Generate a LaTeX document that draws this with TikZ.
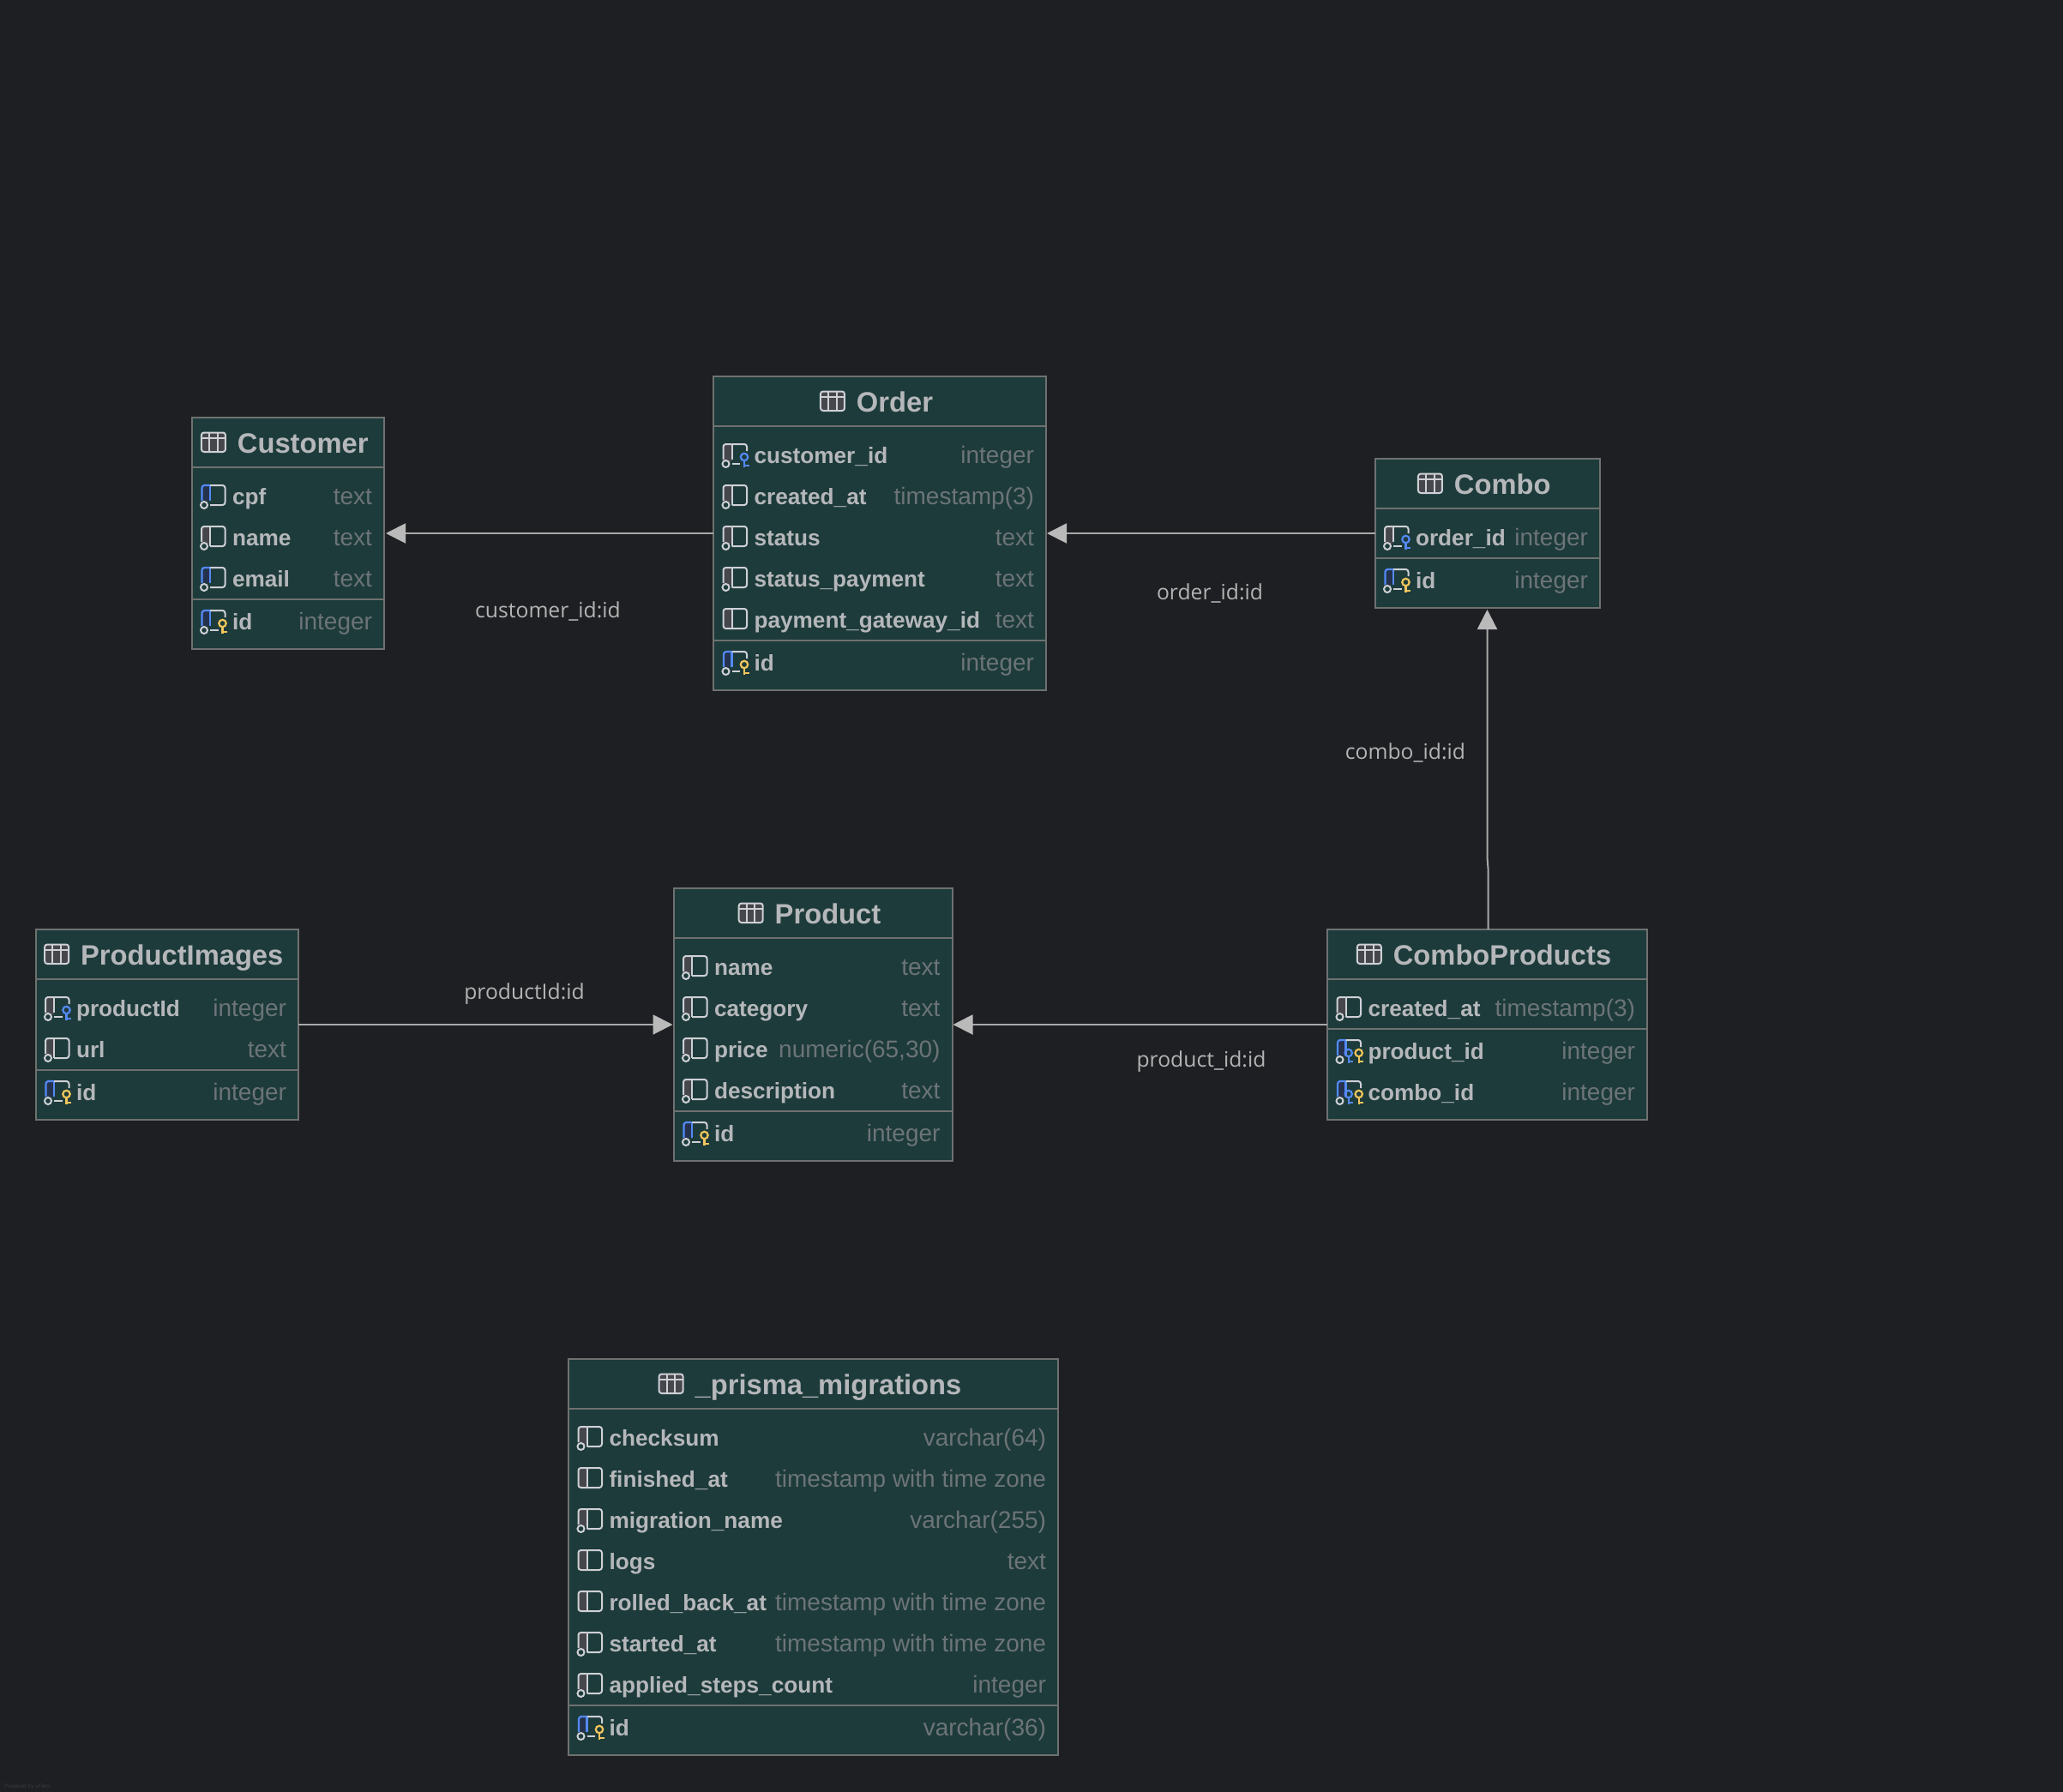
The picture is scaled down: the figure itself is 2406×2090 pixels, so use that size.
\documentclass[tikz,border=0pt]{standalone}
\usepackage{fontspec}
\setmainfont{Liberation Sans}
\newfontfamily\lblfont{Open Sans}
\usetikzlibrary{arrows.meta}
\definecolor{bgc}{HTML}{1E1F22}
\definecolor{tblfill}{HTML}{1D3B3A}
\definecolor{tblline}{HTML}{6E7170}
\definecolor{titlec}{HTML}{B5B7BB}
\definecolor{typec}{HTML}{6C7478}
\definecolor{iconl}{HTML}{CED0D6}
\definecolor{icong}{HTML}{46474D}
\definecolor{iconbf}{HTML}{25324D}
\definecolor{iconb}{HTML}{548AF7}
\definecolor{icony}{HTML}{F2C55C}
\definecolor{connc}{HTML}{A9A9A9}
\definecolor{tipc}{HTML}{BABABA}
\definecolor{lblc}{HTML}{B4B4B4}
\definecolor{wmc}{HTML}{3A3B3E}
\catcode`\_=12
\tikzset{
  x=1pt,y=-1pt,
  tblbox/.style={draw=tblline,fill=tblfill,line width=2pt,inner sep=0pt,outer sep=0pt},
  tbltitle/.style={anchor=base,inner sep=0pt,outer sep=0pt,text=titlec,font=\fontsize{32.7}{36}\selectfont\bfseries},
  fldname/.style={anchor=base west,inner sep=0pt,outer sep=0pt,text=titlec,font=\fontsize{26.2}{30}\selectfont\bfseries},
  fldtype/.style={anchor=base east,inner sep=0pt,outer sep=0pt,text=typec,font=\fontsize{28}{32}\selectfont},
  seprule/.style={draw=tblline,line width=2pt},
  icoline/.style={draw=iconl,line width=2pt,rounded corners=3pt},
  bluline/.style={draw=iconb,line width=2.2pt},
  conn/.style={draw=connc,line width=2pt,-{Triangle[length=23pt,width=23pt,color=tipc]},shorten >=2pt},
  lbl/.style={anchor=base,inner sep=0pt,text=lblc,font=\fontsize{24.7}{28}\selectfont\lblfont},
}
% #1 id, #2 title, #3 l, #4 r, #5 t, #6 b
\newcommand\tablebox[6]{%
  \node[tblbox,minimum width={(#4-#3)*1pt},minimum height={(#6-#5)*1pt}] (#1) at ({(#3+#4)/2},{(#5+#6)/2}) {};
  \node[tbltitle] (#1-title) at ({(#3+#4)/2+17.5},#5+41) {#2};
  \begin{scope}[shift={(#1-title.base west)}]
    \fill[icong,rounded corners=3pt] (-42,-23) rectangle (-14,-1);
    \draw[icoline] (-42,-23.5) rectangle (-14,-1);
    \draw[draw=iconl,line width=2pt] (-42,-17.5) -- (-14,-17.5) (-32.7,-23.5) -- (-32.7,-1) (-23.3,-23.5) -- (-23.3,-1);
  \end{scope}
  \draw[seprule] (#3,#5+58) -- (#4,#5+58);
}
\newcommand\rowsep[3]{\draw[seprule] (#1,#3) -- (#2,#3);}
\newcommand\circmark[2]{\draw[draw=iconl,line width=2pt,fill=tblfill] (#1+14.5,#2+11) circle[radius=4];}
\newcommand\keyof[3]{% x centre, y row, colour
  \draw[draw=#3,line width=2.2pt] (#1,#2+3) circle[radius=4.2];
  \draw[draw=#3,line width=2.2pt] (#1,#2+7.2) -- (#1,#2+15);
  \draw[draw=#3,line width=2.2pt] (#1,#2+13) -- (#1+5.5,#2+13);
}
% icon kinds: #1 left, #2 y
\newcommand\iconn[2]{%
  \fill[icong,rounded corners=3pt] (#1+11.5,#2-12) rectangle (#1+21.5,#2+11);
  \draw[icoline] (#1+11.5,#2-12) rectangle (#1+39,#2+11);
  \draw[draw=iconl,line width=2pt] (#1+21.5,#2-12) -- (#1+21.5,#2+11);
}
\newcommand\colg[2]{%
  \fill[icong,rounded corners=3pt] (#1+11.5,#2-12) -- (#1+21.5,#2-12) -- (#1+21.5,#2+9) -- (#1+11.5,#2+9) -- cycle;
}
\newcommand\colb[2]{%
  \fill[iconbf,rounded corners=3pt] (#1+11.5,#2-12) -- (#1+21.5,#2-12) -- (#1+21.5,#2+6) -- (#1+11.5,#2+6) -- cycle;
  \draw[bluline,rounded corners=3pt] (#1+12,#2+6) -- (#1+12,#2-12) -- (#1+21.5,#2-12);
  \draw[bluline] (#1+21.5,#2-12) -- (#1+21.5,#2+6);
}
\newcommand\outl[2]{% no key
  \draw[icoline] (#1+21.5,#2-12) -- (#1+39,#2-12) -- (#1+39,#2+11) -- (#1+21.5,#2+11);
}
\newcommand\outk[3]{% room for keys; #3 is where the bottom ends
  \draw[icoline] (#1+21.5,#2-12) -- (#1+39,#2-12) -- (#1+39,#2-4);
  \draw[draw=iconl,line width=2pt] (#1+21.5,#2+11) -- (#1+#3,#2+11);
}
\newcommand\graycol[3]{\colg{#1}{#2}\draw[draw=iconl,line width=2pt,rounded corners=3pt] (#1+11.5,#2+6) -- (#1+11.5,#2-12) -- (#1+21.5,#2-12);\draw[draw=iconl,line width=2pt] (#1+21.5,#2-12) -- (#1+21.5,#2+#3);}
\newcommand\icong[2]{\graycol{#1}{#2}{11}\outl{#1}{#2}\circmark{#1}{#2}}
\newcommand\iconb[2]{\colb{#1}{#2}\outl{#1}{#2}\circmark{#1}{#2}}
\newcommand\icongk[2]{\graycol{#1}{#2}{6}\outk{#1}{#2}{31}\circmark{#1}{#2}\keyof{#1+36}{#2}{iconb}}
\newcommand\iconbk[2]{\colb{#1}{#2}\outk{#1}{#2}{31}\circmark{#1}{#2}\keyof{#1+36}{#2}{icony}}
\newcommand\iconbkk[2]{\colb{#1}{#2}\outk{#1}{#2}{21.5}\circmark{#1}{#2}\keyof{#1+24.7}{#2}{iconb}\keyof{#1+36.7}{#2}{icony}}
\newcounter{fldno}
% #1 l, #2 r, #3 y, #4 kind, #5 name, #6 type
\newcommand\fld[6]{%
  \stepcounter{fldno}%
  \csname icon#4\endcsname{#1}{#3}%
  \node[fldname] (fn\arabic{fldno}) at (#1+47.5,#3+10.5) {#5};
  \node[fldtype] (ft\arabic{fldno}) at (#2-14,#3+10.5) {#6};
}
\begin{document}
\begin{tikzpicture}
\fill[bgc] (0,0) rectangle (2406,2090);
\useasboundingbox (0,0) rectangle (2406,2090);

\tablebox{customer}{Customer}{223.5}{448}{487}{757}
\fld{223.5}{448}{578}{b}{cpf}{text}
\fld{223.5}{448}{626}{g}{name}{text}
\fld{223.5}{448}{674}{b}{email}{text}
\rowsep{223.5}{448}{699}
\fld{223.5}{448}{724}{bk}{id}{integer}

\tablebox{order}{Order}{832}{1220}{439}{805}
\fld{832}{1220}{530}{gk}{customer_id}{integer}
\fld{832}{1220}{578}{g}{created_at}{timestamp(3)}
\fld{832}{1220}{626}{g}{status}{text}
\fld{832}{1220}{674}{g}{status_payment}{text}
\fld{832}{1220}{722}{n}{payment_gateway_id}{text}
\rowsep{832}{1220}{747}
\fld{832}{1220}{772}{bk}{id}{integer}

\tablebox{combo}{Combo}{1603.5}{1866}{535}{709}
\fld{1603.5}{1866}{626}{gk}{order_id}{integer}
\rowsep{1603.5}{1866}{651}
\fld{1603.5}{1866}{676}{bk}{id}{integer}

\tablebox{product}{Product}{785.5}{1110.5}{1036}{1354}
\fld{785.5}{1110.5}{1127}{g}{name}{text}
\fld{785.5}{1110.5}{1175}{g}{category}{text}
\fld{785.5}{1110.5}{1223}{g}{price}{numeric(65,30)}
\fld{785.5}{1110.5}{1271}{g}{description}{text}
\rowsep{785.5}{1110.5}{1296}
\fld{785.5}{1110.5}{1321}{bk}{id}{integer}

\tablebox{images}{ProductImages}{41.5}{348}{1084}{1306}
\fld{41.5}{348}{1175}{gk}{productId}{integer}
\fld{41.5}{348}{1223}{g}{url}{text}
\rowsep{41.5}{348}{1248}
\fld{41.5}{348}{1273}{bk}{id}{integer}

\tablebox{comboprod}{ComboProducts}{1548}{1921}{1084}{1306}
\fld{1548}{1921}{1175}{g}{created_at}{timestamp(3)}
\rowsep{1548}{1921}{1200}
\fld{1548}{1921}{1225}{bkk}{product_id}{integer}
\fld{1548}{1921}{1273}{bkk}{combo_id}{integer}

\tablebox{prisma}{_prisma_migrations}{663}{1234}{1585}{2047}
\fld{663}{1234}{1676}{g}{checksum}{varchar(64)}
\fld{663}{1234}{1724}{n}{finished_at}{timestamp with time zone}
\fld{663}{1234}{1772}{g}{migration_name}{varchar(255)}
\fld{663}{1234}{1820}{n}{logs}{text}
\fld{663}{1234}{1868}{n}{rolled_back_at}{timestamp with time zone}
\fld{663}{1234}{1916}{g}{started_at}{timestamp with time zone}
\fld{663}{1234}{1964}{g}{applied_steps_count}{integer}
\rowsep{663}{1234}{1989}
\fld{663}{1234}{2014}{bk}{id}{varchar(36)}

\draw[conn] (order.west |- 0,622) -- (customer.east |- 0,622);
\draw[conn,shorten >=1pt] (combo.west |- 0,622) -- (order.east |- 0,622);
\draw[conn,shorten >=1pt] (images.east |- 0,1195) -- (product.west |- 0,1195);
\draw[conn,shorten >=1pt] (comboprod.west |- 0,1195) -- (product.east |- 0,1195);
\coordinate (jogA) at (1735.5,1013);
\coordinate (jogB) at (1734.5,1000);
\draw[conn] (comboprod.north -| jogA) -- (jogA) -- (jogB) -- (combo.south -| jogB);

\node[lbl] (l1) at (639,720.5) {customer_id:id};
\node[lbl] (l2) at (1411,699) {order_id:id};
\node[lbl] (l3) at (1639,885) {combo_id:id};
\node[lbl] (l4) at (611.5,1165) {productId:id};
\node[lbl] (l5) at (1401,1244) {product_id:id};
\node[anchor=base west,inner sep=0pt,text=wmc,font=\fontsize{6.5}{8}\selectfont] (wm) at (5,2085) {Powered by yFiles};
\end{tikzpicture}
\end{document}
